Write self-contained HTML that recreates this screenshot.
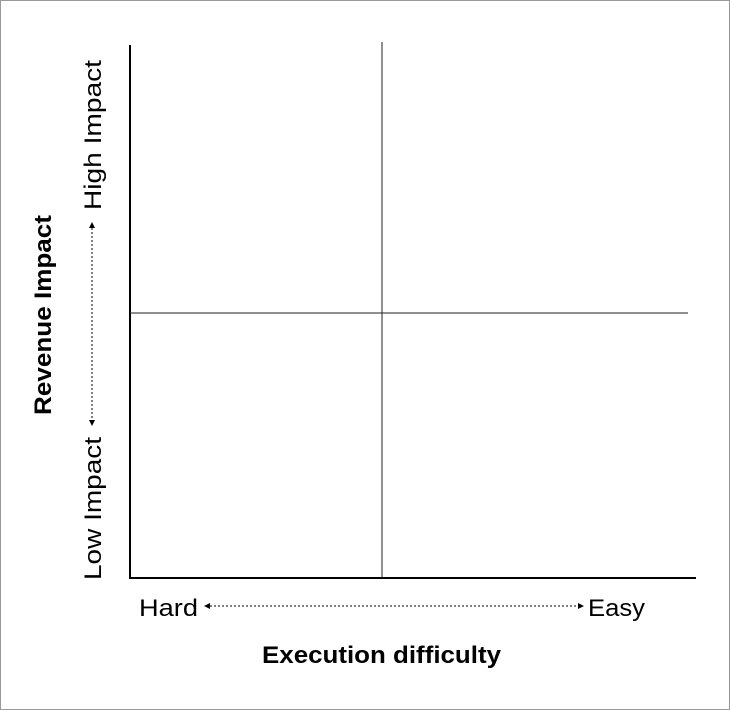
<!DOCTYPE html>
<html><head><style>body{margin:0;background:#fff}</style></head><body>
<svg width="730" height="710" xmlns="http://www.w3.org/2000/svg" style="display:block">
<rect x="0.5" y="0.5" width="729" height="709" fill="#fff" stroke="#999"/>
<line x1="130" y1="45" x2="130" y2="579" stroke="#000" stroke-width="2"/>
<line x1="129" y1="578" x2="696" y2="578" stroke="#000" stroke-width="2"/>
<line x1="382" y1="42" x2="382" y2="578" stroke="#222" stroke-width="1"/>
<line x1="130" y1="313" x2="688" y2="313" stroke="#222" stroke-width="1"/>
<g font-family="Liberation Sans, sans-serif" fill="#000">
<text x="139" y="616" font-size="24" textLength="59" lengthAdjust="spacingAndGlyphs">Hard</text>
<text x="588" y="616" font-size="24" textLength="57" lengthAdjust="spacingAndGlyphs">Easy</text>
<text x="262" y="663" font-size="24" font-weight="bold" textLength="239" lengthAdjust="spacingAndGlyphs">Execution difficulty</text>
<text transform="translate(101,580) rotate(-90)" font-size="24" textLength="143" lengthAdjust="spacingAndGlyphs">Low Impact</text>
<text transform="translate(101,210) rotate(-90)" font-size="24" textLength="150" lengthAdjust="spacingAndGlyphs">High Impact</text>
<text transform="translate(51,415) rotate(-90)" font-size="24" font-weight="bold" textLength="200" lengthAdjust="spacingAndGlyphs">Revenue Impact</text>
</g>
<line x1="210" y1="606" x2="578" y2="606" stroke="#000" stroke-dasharray="2,2"/>
<path d="M204 606 l6 -3 v6z M584 606 l-6 -3 v6z" fill="#000"/>
<line x1="92" y1="228" x2="92" y2="420" stroke="#000" stroke-dasharray="2,2"/>
<path d="M92 222 l-3 6 h6z M92 426 l-3 -6 h6z" fill="#000"/>
</svg>
</body></html>
